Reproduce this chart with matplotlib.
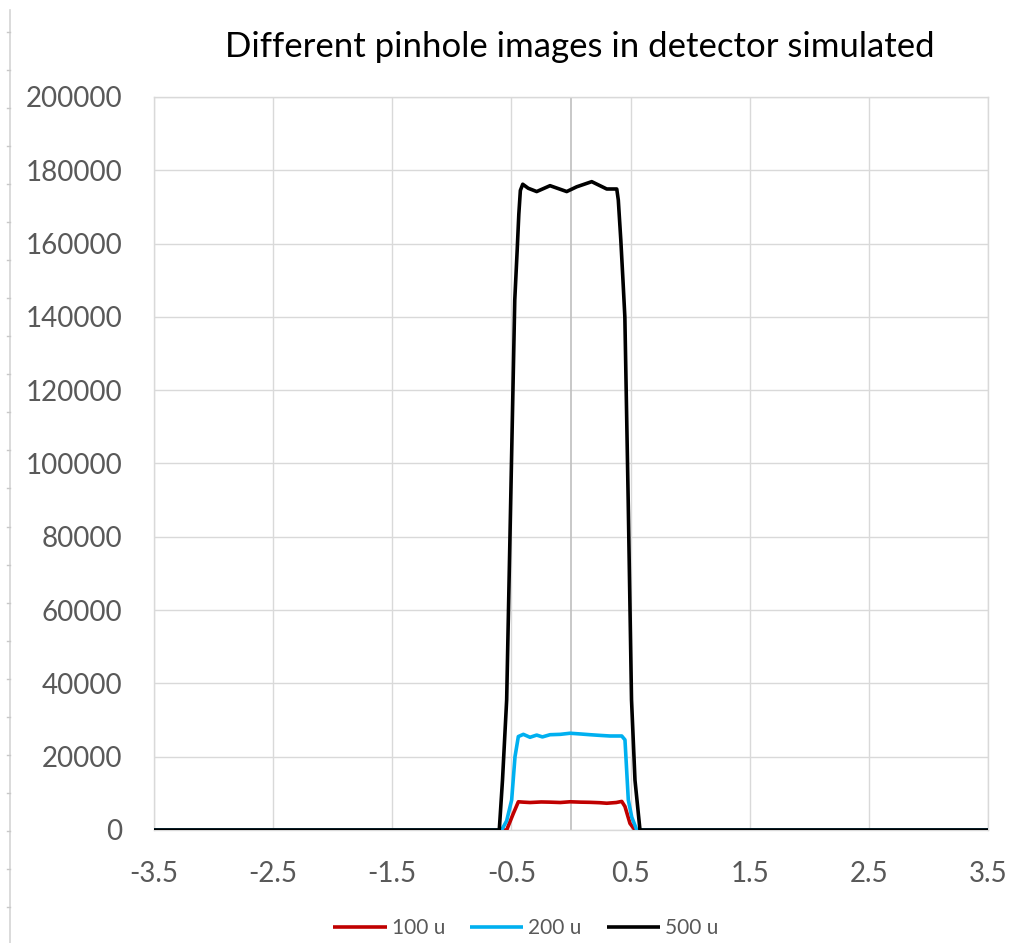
import matplotlib
matplotlib.use("Agg")
import matplotlib.pyplot as plt
import numpy as np
from matplotlib.lines import Line2D

plt.rcParams['font.family'] = ['Lato', 'DejaVu Sans']

# data -------------------------------------------------------------------
x_100 = [-3.5, -0.540, -0.484, -0.442, -0.400, -0.344, -0.250, -0.176, -0.090,
         -0.008, 0.080, 0.160, 0.240, 0.300, 0.380, 0.426, 0.453, 0.495, 0.537, 3.5]
y_100 = [0, 0, 4500, 7700, 7600, 7500, 7650, 7600, 7500,
         7700, 7600, 7550, 7450, 7300, 7500, 7800, 6400, 1800, 0, 0]

x_200 = [-3.5, -0.582, -0.540, -0.498, -0.470, -0.442, -0.400, -0.344, -0.288,
         -0.240, -0.176, -0.090, -0.008, 0.080, 0.160, 0.250, 0.327, 0.426,
         0.453, 0.481, 0.510, 0.552, 3.5]
y_200 = [0, 0, 2500, 8200, 20000, 25500, 26100, 25300, 25900,
         25400, 26000, 26100, 26400, 26200, 26000, 25800, 25650, 25650,
         24600, 8200, 3500, 0, 0]

x_500 = [-3.5, -0.602, -0.575, -0.540, -0.506, -0.472, -0.452, -0.438, -0.425,
         -0.405, -0.359, -0.288, -0.176, -0.036, 0.048, 0.174, 0.300, 0.384,
         0.397, 0.418, 0.436, 0.452, 0.480, 0.508, 0.537, 0.579, 3.5]
y_500 = [0, 0, 13600, 35500, 90000, 144600, 158000, 168000, 174500,
         176200, 175100, 174200, 175800, 174200, 175500, 176900, 174900, 174900,
         171900, 161000, 150100, 140000, 90000, 35500, 13600, 0, 0]

series = [('100 u', x_100, y_100, '#C00000'),
          ('200 u', x_200, y_200, '#00B0F0'),
          ('500 u', x_500, y_500, '#000000')]

x_ticks = [-3.5, -2.5, -1.5, -0.5, 0.5, 1.5, 2.5, 3.5]
x_tick_labels = ['-3.5', '-2.5', '-1.5', '-0.5', '0.5', '1.5', '2.5', '3.5']
y_ticks = [0, 20000, 40000, 60000, 80000, 100000, 120000, 140000, 160000, 180000, 200000]

title = 'Different pinhole images in detector simulated'

# figure -----------------------------------------------------------------
W, H = 1015, 943
fig = plt.figure(figsize=(W / 100, H / 100), dpi=100)
ax = fig.add_axes([154 / W, 1 - 830 / H, (988 - 154) / W, (830 - 97) / H])

grid_col = '#D9D9D9'
text_col = '#595959'

ax.set_xlim(-3.5, 3.5)
ax.set_ylim(0, 200000)
ax.set_xticks(x_ticks)
ax.set_xticklabels(x_tick_labels)
ax.set_yticks(y_ticks)
ax.set_yticklabels([str(v) for v in y_ticks])
ax.grid(True, color=grid_col, lw=1.0, zorder=0)
ax.set_axisbelow(True)
for s in ax.spines.values():
    s.set_color(grid_col)
    s.set_linewidth(1.0)
ax.axvline(0, color='#BFBFBF', lw=1.2, zorder=1)
ax.tick_params(axis='both', length=0, labelsize=20, colors=text_col)
ax.tick_params(axis='y', pad=23)
ax.tick_params(axis='x', pad=22)

for name, xs, ys, col in series:
    ax.plot(xs, ys, color=col, lw=2.6, label=name, zorder=3,
            solid_joinstyle='round', solid_capstyle='butt')

fig.text(580 / W, 1 - 57 / H, title, ha='center', va='baseline',
         fontsize=25, color='#000000')

leg = fig.legend(loc='center', bbox_to_anchor=(526 / W, 1 - 928 / H),
                 ncol=3, frameon=False, fontsize=15, handlelength=2.55,
                 handletextpad=0.25, columnspacing=1.2, borderpad=0)
for t in leg.get_texts():
    t.set_color(text_col)

# ruler strip at the left edge of the screenshot
fig.add_artist(Line2D([10 / W, 10 / W], [0, 1 - 10 / H], color='#D4D4D4', lw=1.2))
for yp in np.arange(32, 940, 38.04):
    fig.add_artist(Line2D([7 / W, 10 / W], [1 - yp / H, 1 - yp / H],
                          color='#C8C8C8', lw=1.0))

fig.savefig('out.png', dpi=100)
